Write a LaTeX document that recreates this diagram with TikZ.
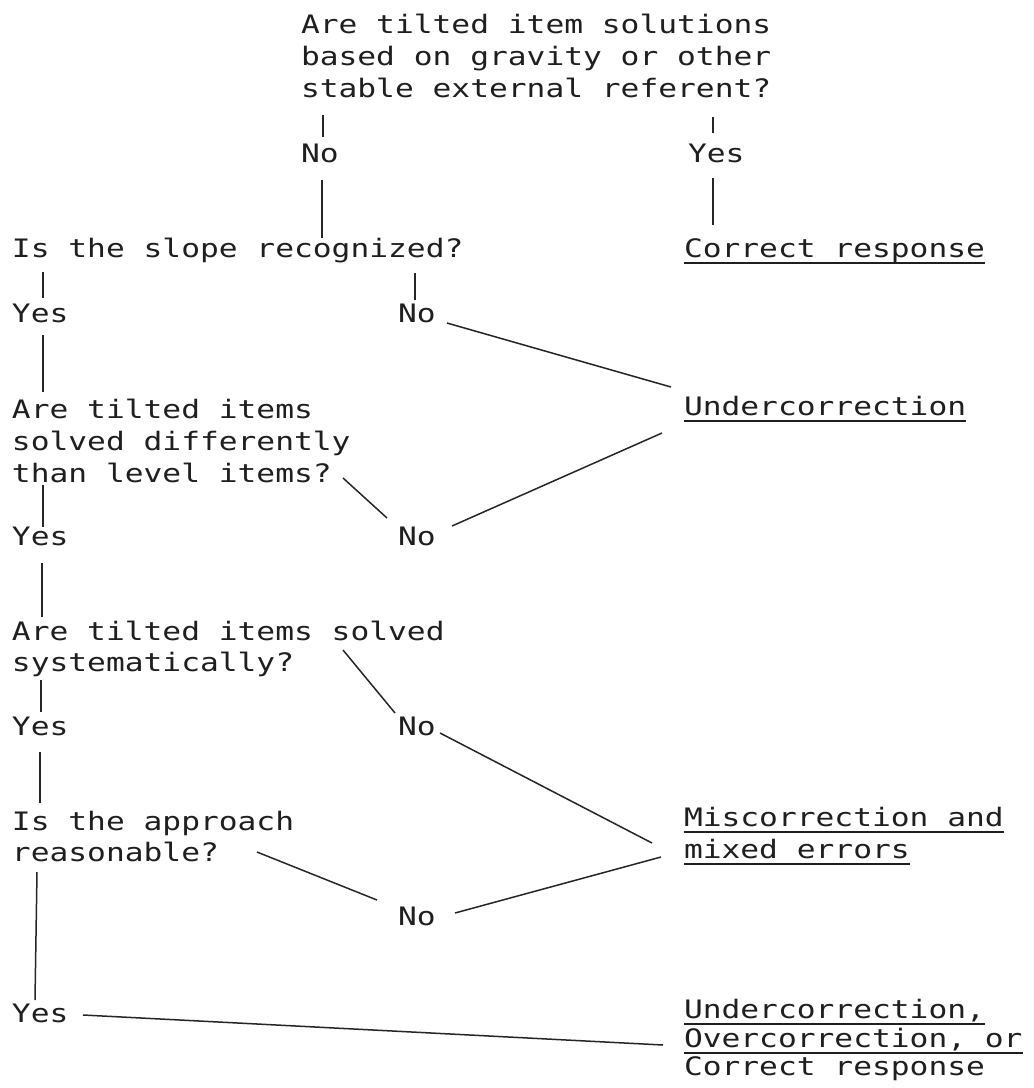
\documentclass[tikz,border=0pt]{standalone}
\usepackage{fontspec}
\usetikzlibrary{calc}
\newfontfamily\twfont{DejaVu Sans Mono}[FakeStretch=1.23]
\newcommand\myul[1]{\setbox0=\hbox{#1}\rlap{\rule[-6.5pt]{\wd0}{1.4pt}}\box0}
\begin{document}
\begin{tikzpicture}[x=1pt,y=-1pt,
  txt/.style={anchor=base west, inner sep=0pt, outer sep=0pt,
    font=\twfont\fontsize{25.4pt}{32pt}\selectfont, text=black!88},
  conn/.style={draw=black!85, line width=1.5pt}]
\useasboundingbox[fill=white] (0,0) rectangle (1034,1088);
% question 1
\node[txt] (q1a) at (301,33) {Are tilted item solutions};
\node[txt] (q1b) at (301,65) {based on gravity or other};
\node[txt] (q1c) at (301,97) {stable external referent?};
\node[txt] (no1) at (301,162) {No};
\node[txt] (yes1) at (688,162) {Yes};
\node[txt] (cr1) at (684,257) {\myul{Correct response}};
% question 2
\node[txt] (q2) at (12,257) {Is the slope recognized?};
\node[txt] (yes2) at (12,322) {Yes};
\node[txt] (no2) at (398,322) {No};
\node[txt] (under) at (684,415) {\myul{Undercorrection}};
% question 3
\node[txt] (q3a) at (12,418) {Are tilted items};
\node[txt] (q3b) at (12,450) {solved differently};
\node[txt] (q3c) at (12,482) {than level items?};
\node[txt] (yes3) at (12,545) {Yes};
\node[txt] (no3) at (398,545) {No};
% question 4
\node[txt] (q4a) at (12,640) {Are tilted items solved};
\node[txt] (q4b) at (12,671) {systematically?};
\node[txt] (yes4) at (12,735) {Yes};
\node[txt] (no4) at (398,735) {No};
\node[txt] (misc1) at (684,826) {\myul{Miscorrection and}};
\node[txt] (misc2) at (684,858) {\myul{mixed errors}};
% question 5
\node[txt] (q5a) at (12,830) {Is the approach};
\node[txt] (q5b) at (12,861) {reasonable?};
\node[txt] (no5) at (398,925) {No};
\node[txt] (yes5) at (12,1022) {Yes};
\node[txt] (fin1) at (684,1018) {\myul{Undercorrection,}};
\node[txt] (fin2) at (684,1047) {\myul{Overcorrection, or}};
\node[txt] (fin3) at (684,1075) {Correct response};
% connectors
\draw[conn] ($(q1c.base west)+(22,18)$) -- ($(no1.base west)+(22,-25)$);
\draw[conn] ($(q1c.base west)+(412,20)$) -- ($(yes1.base west)+(25,-29)$);
\draw[conn] ($(no1.base west)+(21,18)$) -- ($(q2.base west)+(310,-19)$);
\draw[conn] ($(yes1.base west)+(25,16)$) -- ($(cr1.base west)+(29,-32)$);
\draw[conn] ($(q2.base west)+(403,16)$) -- ($(no2.base west)+(17,-22)$);
\draw[conn] ($(q2.base west)+(31,15)$) -- ($(yes2.base west)+(31,-24)$);
\draw[conn] ($(no2.base west)+(49,1)$) -- ($(under.base west)+(-13,-28)$);
\draw[conn] ($(yes2.base west)+(31,13)$) -- ($(q3a.base west)+(31,-26)$);
\draw[conn] ($(q3c.base west)+(331,-4)$) -- ($(no3.base west)+(-11,-27)$);
\draw[conn] ($(no3.base west)+(54,-19)$) -- ($(under.base west)+(-22,18)$);
\draw[conn] ($(q3c.base west)+(31,3)$) -- ($(yes3.base west)+(31,-18)$);
\draw[conn] ($(yes3.base west)+(30,18)$) -- ($(q4a.base west)+(30,-23)$);
\draw[conn] ($(q4a.base west)+(331,10)$) -- ($(no4.base west)+(-3,-22)$);
\draw[conn] ($(q4b.base west)+(29,9)$) -- ($(yes4.base west)+(29,-23)$);
\draw[conn] ($(no4.base west)+(42,-2)$) -- ($(misc1.base west)+(-32,17)$);
\draw[conn] ($(yes4.base west)+(28,17)$) -- ($(q5a.base west)+(28,-27)$);
\draw[conn] ($(q5b.base west)+(245,-9)$) -- ($(no5.base west)+(-21,-25)$);
\draw[conn] ($(no5.base west)+(57,-12)$) -- ($(misc2.base west)+(-23,-1)$);
\draw[conn] ($(q5b.base west)+(25,11)$) -- ($(yes5.base west)+(23,-22)$);
\draw[conn] ($(yes5.base west)+(71,-7)$) -- ($(fin2.base west)+(-21,-2)$);
\end{tikzpicture}
\end{document}
